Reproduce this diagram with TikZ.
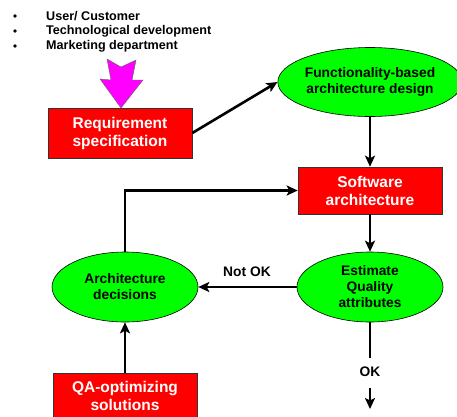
\documentclass[tikz,border=0pt]{standalone}
\usepackage{fontspec}
\setmainfont{Liberation Sans}
\usetikzlibrary{shapes.geometric,arrows.meta}
\definecolor{boxred}{RGB}{255,0,0}
\definecolor{ellgreen}{RGB}{0,255,0}
\definecolor{pinkarrow}{RGB}{255,0,255}
\tikzset{
  redbox/.style={draw=black!80, line width=0.6pt, fill=boxred, text=white, align=center,
    minimum width=144pt, inner sep=0pt, font=\bfseries\fontsize{15.5}{18}\selectfont},
  greenell/.style={ellipse, draw=black, line width=0.6pt, fill=ellgreen, align=center,
    inner sep=0pt, font=\bfseries\fontsize{13.8}{16}\selectfont},
  flow/.style={line width=2.6pt, -{Stealth[length=11pt,width=10pt,inset=2.5pt]}},
  plain/.style={line width=2.6pt},
  lbl/.style={font=\bfseries\fontsize{13.8}{16}\selectfont, inner sep=0pt},
  bul/.style={anchor=west, inner sep=0pt, font=\bfseries\fontsize{12.6}{14}\selectfont},
  dot/.style={circle, fill=black, inner sep=0pt, minimum size=3.6pt}
}
\begin{document}
\begin{tikzpicture}[x=1pt,y=-1pt]
\useasboundingbox (0,0) rectangle (457,416);
\clip (0,0) rectangle (457,416);
% bullets
\node[dot] (b1) at (15,16) {};
\node[dot] (b2) at (15,31) {};
\node[dot] (b3) at (15,46) {};
\node[bul] (t1) at (46,16) {User/ Customer};
\node[bul] (t2) at (46,31) {Technological development};
\node[bul] (t3) at (46,46) {Marketing department};
% pink arrow
\draw[fill=pinkarrow, draw=black!60, line width=0.4pt]
  (107,59) -- (121,67) -- (136,60) -- (132,80) -- (143,80) -- (121,108)
  -- (100,79) -- (111,80) -- cycle;
% nodes
\node[redbox, minimum height=50pt] (req) at (120,133) {Requirement\\specification};
\node[greenell, minimum width=176pt, minimum height=69pt] (func) at (370,82) {Functionality-based\\architecture design};
\node[redbox, minimum height=47pt] (sw) at (370,190.5) {Software\\architecture};
\node[greenell, minimum width=146pt, minimum height=70pt] (arch) at (125,287) {Architecture\\decisions};
\node[greenell, minimum width=146pt, minimum height=70pt] (est) at (370,287) {Estimate\\Quality\\attributes};
\node[redbox, minimum height=46pt] (qa) at (125,396) {QA-optimizing\\solutions};
\node[lbl] (notok) at (247,272) {Not OK};
\node[lbl] (ok) at (370,372) {OK};
\coordinate (okTop) at (370,358);
\coordinate (okBot) at (370,388);
\coordinate (okEnd) at (370,409);
% connectors
\draw[flow] (req.east) -- (func.west);
\draw[flow] (func.south) -- (sw.north);
\draw[flow] (sw.south) -- (est.north);
\draw[flow] (arch.north) |- (sw.west);
\draw[flow] (est.west) -- (arch.east);
\draw[flow] (qa.north) -- (arch.south);
\draw[plain] (est.south) -- (okTop);
\draw[flow] (okBot) -- (okEnd);
\end{tikzpicture}
\end{document}
